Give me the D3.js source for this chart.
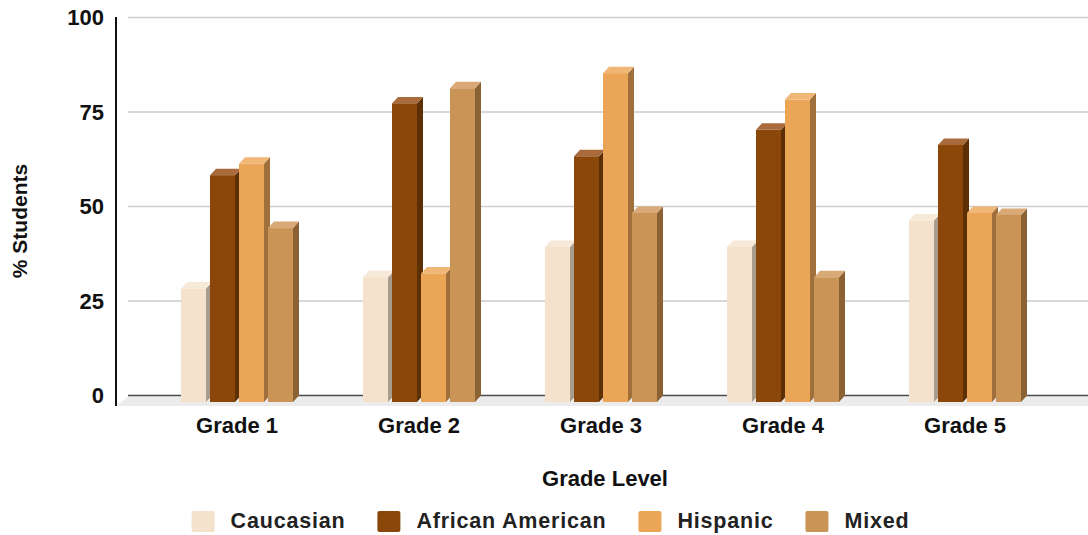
<!DOCTYPE html>
<html>
<head>
<meta charset="utf-8">
<script src="https://cdn.jsdelivr.net/npm/d3@7"></script>
<style>
  html, body { margin: 0; padding: 0; background: #fff; }
  svg { display: block; font-family: "Liberation Sans", Arial, sans-serif; }
</style>
</head>
<body>
<svg id="chart" width="1088" height="535"></svg>
<script>
// chart data
const grades = ['Grade 1', 'Grade 2', 'Grade 3', 'Grade 4', 'Grade 5'];
const seriesNames = ['Caucasian', 'African American', 'Hispanic', 'Mixed'];
const caucasian = [30, 33, 41, 41, 48];
const africanAmerican = [60, 79, 65, 72, 68];
const hispanic = [63, 34, 87, 80, 50];
const mixed = [46, 83, 50, 33, 49.5];
const yTicks = [0, 25, 50, 75, 100];

const seriesValues = [caucasian, africanAmerican, hispanic, mixed];

// front / top / side shades per series
const palette = [
    { front: '#f4e2cd', top: '#f7e9d8', side: '#a89c8d' },
    { front: '#8b4709', top: '#a96b3b', side: '#5d2f05' },
    { front: '#eaa656', top: '#efb675', side: '#9f703c' },
    { front: '#c99455', top: '#d9aa77', side: '#8a6234' }
];

const svg = d3.select('#chart');
const depthX = 6, depthY = 6.5;

const y = d3.scaleLinear().domain([0, 100]).range([395.5, 17.5]);
const x0 = d3.scaleBand().domain(grades).range([146, 1056]);
const x1 = d3.scaleBand().domain(seriesNames).range([-56, 56]).paddingInner(0.138);

// floor
svg.append('polygon')
    .attr('points', [[116, 406], [1088, 406], [1088, 396.5], [128, 396.5]].join(' '))
    .attr('fill', '#ececec');

// gridlines on back wall
svg.append('g')
    .selectAll('line')
    .data(yTicks.filter(d => d > 0))
    .enter().append('line')
    .attr('x1', 128).attr('x2', 1088)
    .attr('y1', d => y(d)).attr('y2', d => y(d))
    .attr('stroke', '#cdcdcd')
    .attr('stroke-width', 1.6);

svg.append('line')
    .attr('x1', 128).attr('x2', 1088)
    .attr('y1', y(0)).attr('y2', y(0))
    .attr('stroke', '#4a4a4a')
    .attr('stroke-width', 1.5);

// y axis
const yAxis = svg.append('g')
    .attr('transform', 'translate(116,0)')
    .call(d3.axisLeft(y).tickValues(yTicks).tickSize(0).tickPadding(12));
yAxis.select('.domain').remove();
yAxis.selectAll('text')
    .attr('font-family', '"Liberation Sans", Arial, sans-serif')
    .attr('font-size', 22)
    .attr('font-weight', 'bold')
    .attr('fill', '#111');

svg.append('line')
    .attr('x1', 116).attr('x2', 116)
    .attr('y1', 17).attr('y2', 406)
    .attr('stroke', '#111')
    .attr('stroke-width', 2);

// bars
const bars = [];
grades.forEach((g, gi) => {
    seriesNames.forEach((s, si) => {
        bars.push({ grade: g, series: s, si: si, value: seriesValues[si][gi] });
    });
});

const barG = svg.append('g');
bars.forEach(d => {
    const xl = x0(d.grade) + x0.bandwidth() / 2 + x1(d.series);
    const w = x1.bandwidth();
    const yf = y(d.value) + depthY;
    const yb = y(0) + depthY;
    const c = palette[d.si];
    const g = barG.append('g');
    g.append('polygon')
        .attr('points', [[xl + w, yf], [xl + w + depthX, yf - depthY], [xl + w + depthX, yb - depthY], [xl + w, yb]].join(' '))
        .attr('fill', c.side);
    g.append('polygon')
        .attr('points', [[xl, yf], [xl + depthX, yf - depthY], [xl + w + depthX, yf - depthY], [xl + w, yf]].join(' '))
        .attr('fill', c.top);
    g.append('rect')
        .attr('x', xl).attr('y', yf)
        .attr('width', w).attr('height', yb - yf)
        .attr('fill', c.front);
});

// x axis labels
svg.append('g')
    .selectAll('text')
    .data(grades)
    .enter().append('text')
    .attr('x', d => x0(d) + x0.bandwidth() / 2)
    .attr('y', 433)
    .attr('text-anchor', 'middle')
    .attr('font-size', 22)
    .attr('font-weight', 'bold')
    .attr('fill', '#111')
    .text(d => d);

svg.append('text')
    .attr('x', 605).attr('y', 485.5)
    .attr('text-anchor', 'middle')
    .attr('font-size', 22)
    .attr('font-weight', 'bold')
    .attr('fill', '#111')
    .text('Grade Level');

svg.append('text')
    .attr('transform', 'translate(27,221) rotate(-90)')
    .attr('text-anchor', 'middle')
    .attr('font-size', 21)
    .attr('font-weight', 'bold')
    .attr('fill', '#111')
    .text('% Students');

// legend
const legend = svg.append('g');
let lx = 0;
seriesNames.forEach((s, i) => {
    const item = legend.append('g').attr('transform', `translate(${lx},0)`);
    item.append('rect')
        .attr('x', 0).attr('y', 511)
        .attr('width', 23).attr('height', 21)
        .attr('rx', 2)
        .attr('fill', palette[i].front);
    const t = item.append('text')
        .attr('x', 39).attr('y', 528)
        .attr('font-size', 21.5)
        .attr('font-weight', 'bold')
        .attr('letter-spacing', 0.8)
        .attr('fill', '#222')
        .text(s);
    lx += 39 + t.node().getComputedTextLength() + 32;
});
const legendWidth = lx - 32;
legend.attr('transform', `translate(${550.5 - legendWidth / 2},0)`);
</script>
</body>
</html>
